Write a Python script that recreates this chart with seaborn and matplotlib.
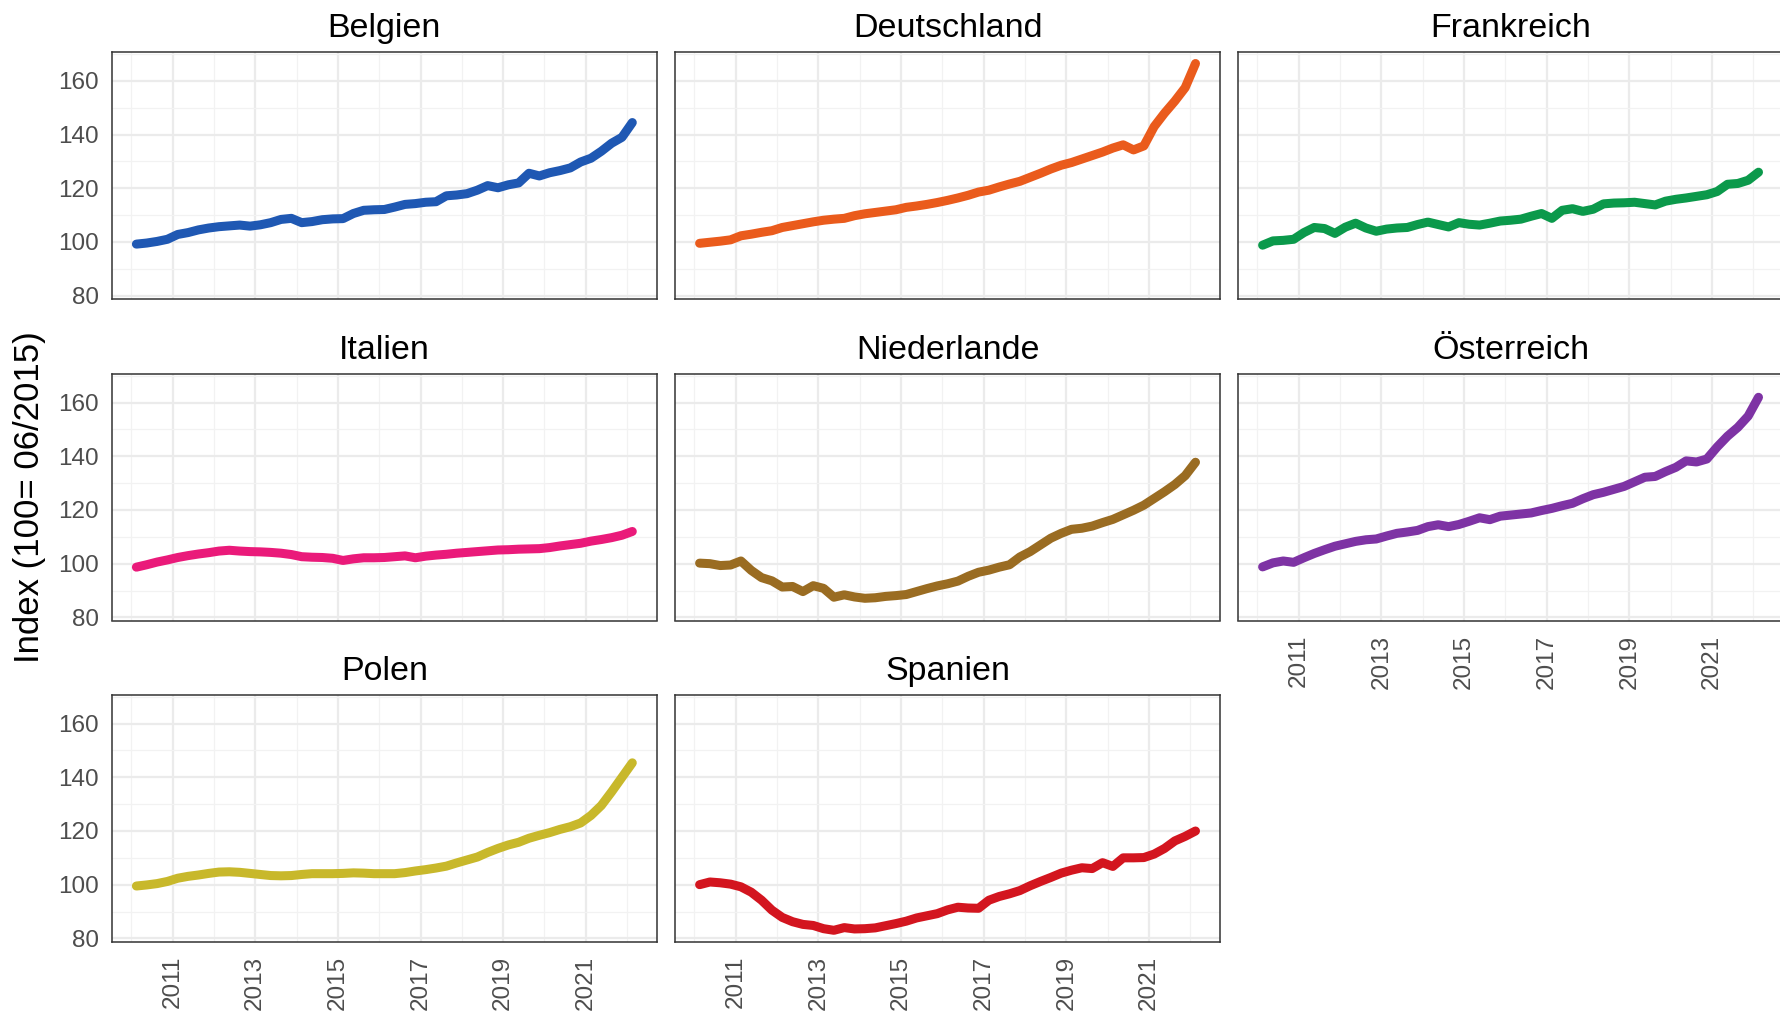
import numpy as np
import pandas as pd
import matplotlib
matplotlib.use("Agg")
import matplotlib.pyplot as plt
import seaborn as sns

# Quarterly index values (100 = 06/2015), 2010 Q1 .. 2022 Q1, placed at mid-quarter
quarters = [2010.125 + 0.25 * i for i in range(49)]

laender = ["Belgien", "Deutschland", "Frankreich", "Italien",
           "Niederlande", "Österreich", "Polen", "Spanien"]

belgien = [99.2, 99.6, 100.2, 101.0, 102.8, 103.5, 104.5, 105.2,
           105.7, 106.0, 106.3, 105.9, 106.4, 107.2, 108.4, 108.8,
           107.2, 107.6, 108.3, 108.6, 108.7, 110.6, 111.8, 112.0,
           112.1, 113.0, 114.0, 114.3, 114.8, 115.0, 117.2, 117.5,
           118.0, 119.3, 121.0, 120.2, 121.3, 122.0, 125.6, 124.6,
           125.8, 126.6, 127.6, 129.8, 131.2, 133.8, 136.8, 139.0,
           144.5]
deutschland = [99.5, 99.9, 100.3, 100.8, 102.3, 102.9, 103.6, 104.2,
               105.4, 106.1, 106.8, 107.5, 108.1, 108.5, 108.8, 109.8,
               110.5, 111.0, 111.5, 112.0, 112.9, 113.4, 114.0, 114.7,
               115.5, 116.4, 117.4, 118.6, 119.3, 120.5, 121.6, 122.6,
               124.1, 125.6, 127.2, 128.6, 129.6, 130.9, 132.2, 133.5,
               135.0, 136.2, 134.3, 135.8, 143.0, 148.0, 152.5, 157.5,
               166.5]
frankreich = [98.8, 100.4, 100.6, 101.0, 103.5, 105.4, 105.0, 103.2,
              105.5, 107.0, 105.2, 104.0, 104.8, 105.2, 105.4, 106.5,
              107.4, 106.5, 105.6, 107.2, 106.6, 106.3, 107.0, 107.8,
              108.1, 108.5, 109.6, 110.6, 108.8, 111.8, 112.4, 111.4,
              112.2, 114.2, 114.5, 114.6, 114.8, 114.3, 113.8, 115.2,
              115.9, 116.4, 117.0, 117.6, 118.8, 121.5, 121.8, 123.0,
              126.0]
italien = [98.7, 99.6, 100.6, 101.4, 102.3, 103.0, 103.6, 104.1,
           104.7, 105.0, 104.7, 104.5, 104.4, 104.2, 103.9, 103.4,
           102.6, 102.4, 102.3, 102.0, 101.2, 101.8, 102.2, 102.2,
           102.3, 102.6, 102.9, 102.2, 102.8, 103.2, 103.5, 103.9,
           104.2, 104.5, 104.8, 105.1, 105.2, 105.4, 105.5, 105.6,
           106.0, 106.6, 107.1, 107.6, 108.4, 109.0, 109.7, 110.6,
           112.0]
niederlande = [100.2, 100.0, 99.3, 99.5, 101.0, 97.5, 94.8, 93.6,
               91.3, 91.5, 89.6, 91.8, 90.8, 87.5, 88.4, 87.6,
               87.1, 87.3, 87.8, 88.1, 88.5, 89.6, 90.7, 91.7,
               92.5, 93.5, 95.3, 96.8, 97.6, 98.7, 99.6, 102.5,
               104.5, 107.0, 109.5, 111.3, 112.8, 113.2, 114.0, 115.3,
               116.5, 118.2, 119.9, 121.8, 124.3, 126.8, 129.5, 132.8,
               137.8]
oesterreich = [98.8, 100.3, 101.0, 100.5, 102.2, 103.8, 105.2, 106.5,
               107.4, 108.3, 108.9, 109.2, 110.3, 111.3, 111.8, 112.4,
               113.8, 114.5, 113.8, 114.6, 115.8, 117.1, 116.4, 117.7,
               118.1, 118.5, 118.9, 119.8, 120.6, 121.6, 122.5, 124.2,
               125.7, 126.6, 127.7, 128.8, 130.5, 132.2, 132.5, 134.3,
               135.9, 138.3, 137.9, 139.0, 143.5, 147.5, 150.8, 155.0,
               162.0]
polen = [99.5, 99.9, 100.4, 101.2, 102.4, 103.1, 103.6, 104.2,
         104.7, 104.8, 104.6, 104.2, 103.8, 103.4, 103.3, 103.4,
         103.8, 104.1, 104.1, 104.1, 104.2, 104.4, 104.3, 104.1,
         104.1, 104.1, 104.5, 105.1, 105.6, 106.2, 106.9, 108.1,
         109.2, 110.3, 112.0, 113.5, 114.8, 115.8, 117.3, 118.4,
         119.4, 120.6, 121.6, 123.0, 125.8, 129.5, 134.6, 140.0,
         145.4]
spanien = [100.0, 101.0, 100.7, 100.2, 99.2, 97.2, 94.2, 90.5,
           87.8, 86.2, 85.2, 84.8, 83.6, 83.0, 84.0, 83.5,
           83.6, 83.9, 84.7, 85.5, 86.4, 87.6, 88.4, 89.2,
           90.6, 91.6, 91.3, 91.2, 94.2, 95.6, 96.6, 97.8,
           99.6, 101.2, 102.7, 104.3, 105.4, 106.3, 106.0, 108.2,
           106.8, 110.0, 110.0, 110.1, 111.4, 113.5, 116.3, 118.0,
           120.0]

farben = ["#1F58B3", "#EA5B1C", "#0B994B", "#EA1A7A",
          "#9A6C22", "#7E33A4", "#C8B82B", "#D3151F"]

x_major = [2011, 2013, 2015, 2017, 2019, 2021]
x_minor = [2010, 2012, 2014, 2016, 2018, 2020, 2022]
y_major = [80, 100, 120, 140, 160]
y_minor = [90, 110, 130, 150, 170]

werte = [belgien, deutschland, frankreich, italien,
         niederlande, oesterreich, polen, spanien]
df = pd.concat(
    [pd.DataFrame({"Land": land, "Jahr": quarters, "Index": v})
     for land, v in zip(laender, werte)],
    ignore_index=True,
)

sns.set_style("white")
plt.rcParams["font.family"] = ["Liberation Sans", "DejaVu Sans"]

g = sns.relplot(
    data=df, x="Jahr", y="Index", col="Land", col_order=laender,
    hue="Land", hue_order=laender, palette=farben,
    col_wrap=3, kind="line", linewidth=6.5, legend=False,
    height=3, aspect=1.8,
)
fig = g.figure
fig.set_size_inches(17.8, 10.17)
fig.set_dpi(100)

W, H = 1780.0, 1017.0
col_x = [111.6, 674.8, 1237.8]
row_top = [52.3, 374.0, 695.0]
pw, ph = 545.5, 246.5

g.set_axis_labels("", "")
for i, (ax, land) in enumerate(zip(g.axes.flat, laender)):
    r, c = divmod(i, 3)
    ax.set_position([col_x[c] / W, 1 - (row_top[r] + ph) / H, pw / W, ph / H])
    ax.set_title(land, fontsize=24.5, pad=11, color="black")
    ax.set_xticks(x_major)
    ax.set_xticks(x_minor, minor=True)
    ax.set_yticks(y_major)
    ax.set_yticks(y_minor, minor=True)
    ax.grid(True, which="major", color="#EBEBEB", linewidth=1.6, zorder=0)
    ax.grid(True, which="minor", color="#F2F2F2", linewidth=0.9, zorder=0)
    ax.set_axisbelow(True)
    for sp in ax.spines.values():
        sp.set_visible(True)
        sp.set_color("#333333")
        sp.set_linewidth(1.1)
    ax.tick_params(which="major", length=5, width=1.1, color="#333333",
                   labelsize=17.5, labelcolor="#4D4D4D", pad=4)
    ax.tick_params(which="minor", length=0)
    ax.tick_params(axis="x", labelrotation=90, pad=5)
    ax.margins(x=0.05, y=0.05)

fig.text(30 / W, 1 - 497 / H, "Index (100= 06/2015)", rotation=90,
         ha="center", va="center", fontsize=25, color="black")

fig.savefig("out.png", dpi=100)
